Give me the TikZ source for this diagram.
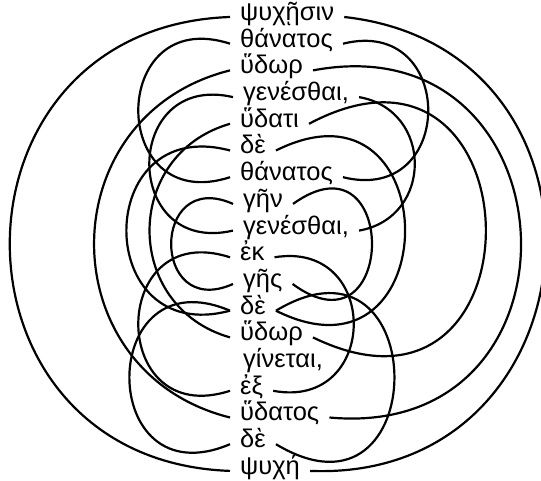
\documentclass[tikz,border=0pt]{standalone}
\usepackage{fontspec}
\setmainfont{Liberation Sans}
\begin{document}
\begin{tikzpicture}[x=1pt, y=-1pt,
    word/.style={anchor=west, inner xsep=10pt, inner ysep=0pt,
      text height=1.3ex, text depth=0pt, font=\fontsize{25.5}{28}\selectfont},
    ring/.style={line width=2.2pt}]
    \path[use as bounding box] (0,0) rectangle (541,481);
    % Words of the fragment, one per row
    \node[word] (psychesin)  at (230, 17.0)  {ψυχῇσιν};
    \node[word] (thanatosA)  at (230, 43.7)  {θάνατος};
    \node[word] (hydorA)     at (230, 70.4)  {ὕδωρ};
    \node[word] (genesthaiA) at (233, 97.1)  {γενέσθαι,};
    \node[word] (hydati)     at (230, 123.8) {ὕδατι};
    \node[word] (deA)        at (230, 150.5) {δὲ};
    \node[word] (thanatosB)  at (230, 177.2) {θάνατος};
    \node[word] (gen)        at (233, 203.9) {γῆν};
    \node[word] (genesthaiB) at (233, 230.6) {γενέσθαι,};
    \node[word] (ek)         at (230, 257.3) {ἐκ};
    \node[word] (ges)        at (233, 284.0) {γῆς};
    \node[word] (deB)        at (230, 310.7) {δὲ};
    \node[word] (hydorB)     at (230, 337.4) {ὕδωρ};
    \node[word] (ginetai)    at (233, 364.1) {γίνεται,};
    \node[word] (ex)         at (230, 390.8) {ἐξ};
    \node[word] (hydatos)    at (230, 417.5) {ὕδατος};
    \node[word] (deC)        at (230, 444.2) {δὲ};
    \node[word] (psyche)     at (230, 470.9) {ψυχή};
    % Left arcs
    \draw[ring] (psychesin.west) to[bend right=88, looseness=1.66] (psyche.west);
    \draw[ring] (thanatosA.west) to[bend right=108, looseness=2.47] (thanatosB.west);
    \draw[ring] (hydorA.west) to[bend right=76, looseness=1.38] (hydatos.west);
    \draw[ring] (genesthaiA.west) to[bend right=103, looseness=2.2] (genesthaiB.west);
    \draw[ring] (hydati.west) to[bend right=74, looseness=1.34] (hydorB.west);
    \draw[ring] (deA.west) to[bend right=105, looseness=2.29] (deB.west);
    \draw[ring] (gen.west) to[bend right=114, looseness=2.89] (ges.west);
    \draw[ring] (ek.west) to[bend right=108, looseness=2.47] (ex.west);
    \draw[ring] (deB.west) to[bend right=113, looseness=2.8] (deC.west);
    % Right arcs
    \draw[ring] (psychesin.east) to[bend left=88, looseness=1.64] (psyche.east);
    \draw[ring] (thanatosA.east) to[bend left=104, looseness=2.25] (thanatosB.east);
    \draw[ring] (hydorA.east) to[bend left=98, looseness=1.98] (hydatos.east);
    \draw[ring] (genesthaiA.east) to[bend left=80, looseness=1.45] (genesthaiB.east);
    \draw[ring] (hydati.east) to[bend left=117, looseness=3.13] (hydorB.east);
    \draw[ring] (deA.east) to[bend left=116.5, looseness=3.08] (deB.east);
    \draw[ring] (gen.east) to[bend left=126, looseness=4.16] (ges.east);
    \draw[ring] (ek.east) to[bend left=100, looseness=2.07] (ex.east);
    \draw[ring] (deB.east) to[bend left=121, looseness=3.54] (deC.east);
\end{tikzpicture}
\end{document}
